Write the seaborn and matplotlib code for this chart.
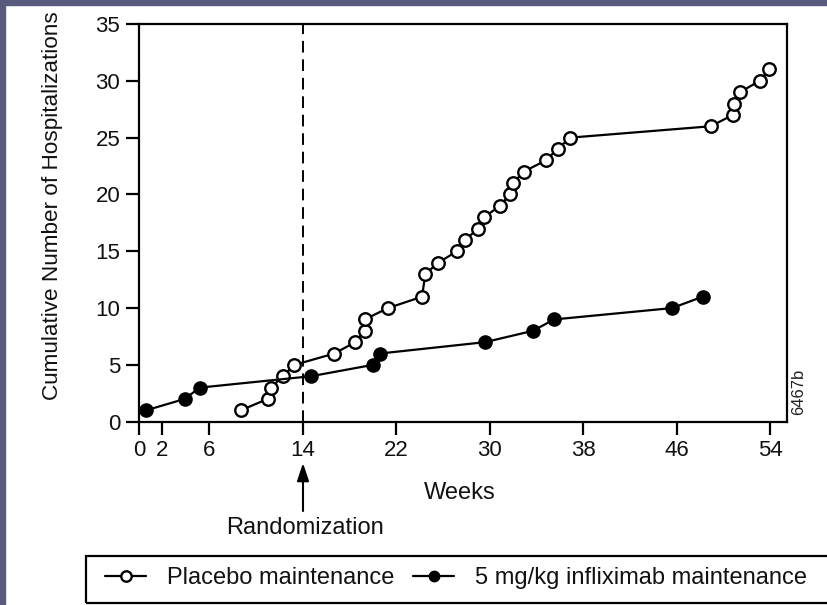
import matplotlib
matplotlib.use("Agg")
import matplotlib.pyplot as plt
from matplotlib.patches import Rectangle
import seaborn as sns
import pandas as pd

# Weeks at which each hospitalization occurred, with the running total
placebo_weeks = [8.7, 11.0, 11.3, 12.3, 13.3, 16.7, 18.5, 19.3, 19.3, 21.3,
                 24.2, 24.5, 25.6, 27.2, 27.9, 29.0, 29.5, 30.9, 31.7, 32.0,
                 32.9, 34.8, 35.8, 36.9, 48.9, 50.8, 50.9, 51.4, 53.1, 53.9]
placebo_counts = [1, 2, 3, 4, 5, 6, 7, 8, 9, 10,
                  11, 13, 14, 15, 16, 17, 18, 19, 20, 21,
                  22, 23, 24, 25, 26, 27, 28, 29, 30, 31]

inflix_weeks = [0.6, 3.9, 5.2, 14.7, 20.0, 20.6, 29.6, 33.7, 35.5, 45.6, 48.2]
inflix_counts = [1, 2, 3, 4, 5, 6, 7, 8, 9, 10, 11]

x_ticks = [0, 2, 6, 14, 22, 30, 38, 46, 54]
y_ticks = [0, 5, 10, 15, 20, 25, 30, 35]
randomization_week = 14

placebo_label = "Placebo maintenance"
inflix_label = "5 mg/kg infliximab maintenance"

sns.set_theme(style="white")
plt.rcParams["font.family"] = ["Liberation Sans", "DejaVu Sans"]

W, H = 828, 605
fig = plt.figure(figsize=(W / 100, H / 100), dpi=100)
ax = fig.add_axes([139 / W, 1 - 421.7 / H, (786.7 - 139) / W, (421.7 - 24) / H])

placebo = pd.DataFrame({"week": placebo_weeks, "count": placebo_counts})
inflix = pd.DataFrame({"week": inflix_weeks, "count": inflix_counts})

sns.lineplot(data=placebo, x="week", y="count", ax=ax, color="black", lw=1.6,
             marker="o", markersize=9, markerfacecolor="white",
             markeredgecolor="black", markeredgewidth=1.7,
             sort=False, estimator=None, label=placebo_label, zorder=3)
sns.lineplot(data=inflix, x="week", y="count", ax=ax, color="black", lw=1.6,
             marker="o", markersize=9.5, markerfacecolor="black",
             markeredgecolor="black", markeredgewidth=1.0,
             sort=False, estimator=None, label=inflix_label, zorder=3)

ax.axvline(randomization_week, color="black", lw=1.4, ls=(0, (6, 3.5)), zorder=2)

ax.set_xlim(0, 55.4)
ax.set_ylim(0, 35)
ax.set_xticks(x_ticks)
ax.set_yticks(y_ticks)
ax.set_xlabel("")
ax.set_ylabel("")
for s in ax.spines.values():
    s.set_color("black")
    s.set_linewidth(1.6)
ax.tick_params(axis="both", direction="out", length=9.5, width=1.6,
               color="black", labelsize=16, labelcolor="#111111",
               bottom=True, left=True)
ax.tick_params(axis="y", pad=4)
ax.tick_params(axis="x", pad=4)

txt = "#111111"
fig.text(53 / W, 1 - 206 / H, "Cumulative Number of Hospitalizations",
         rotation=90, ha="center", va="center", fontsize=16.2, color=txt)
fig.text(460 / W, 1 - 493 / H, "Weeks", ha="center", va="center",
         fontsize=17, color=txt)
fig.text(305 / W, 1 - 528 / H, "Randomization", ha="center", va="center",
         fontsize=17, color=txt)
fig.text(799 / W, 1 - 392 / H, "6467b", rotation=90, ha="center",
         va="center", fontsize=12, color="#222222")

ax.annotate("", xy=(303 / W, 1 - 463 / H), xytext=(303 / W, 1 - 511 / H),
            xycoords="figure fraction", textcoords="figure fraction",
            arrowprops=dict(arrowstyle="-|>,head_length=0.9,head_width=0.3",
                            color="black", lw=1.5, shrinkA=0, shrinkB=0))

# legend strip below the axes
ax.get_legend().remove()
fig.patches.append(Rectangle((86 / W, 1 - 603 / H), (840 - 86) / W, 47 / H,
                             transform=fig.transFigure, fill=False,
                             edgecolor="black", lw=1.6, zorder=5))
handles, labels = ax.get_legend_handles_labels()
leg = fig.legend(handles, labels, ncol=2, loc="center left",
                 bbox_to_anchor=(105 / W, 1 - 578 / H),
                 frameon=False, fontsize=17, handlelength=1.74,
                 handletextpad=0.9, columnspacing=0.78, borderpad=0,
                 borderaxespad=0)
for t in leg.get_texts():
    t.set_color(txt)
for h in leg.legend_handles:
    h.set_markersize(7.5)

# slate band along the top and left edges of the page
fig.patches.append(Rectangle((0, 1 - 5 / H), 1, 5 / H, transform=fig.transFigure,
                             color="#585a7e", zorder=10))
fig.patches.append(Rectangle((0, 0), 5 / W, 1, transform=fig.transFigure,
                             color="#585a7e", zorder=10))

fig.savefig("out.png", dpi=100)
